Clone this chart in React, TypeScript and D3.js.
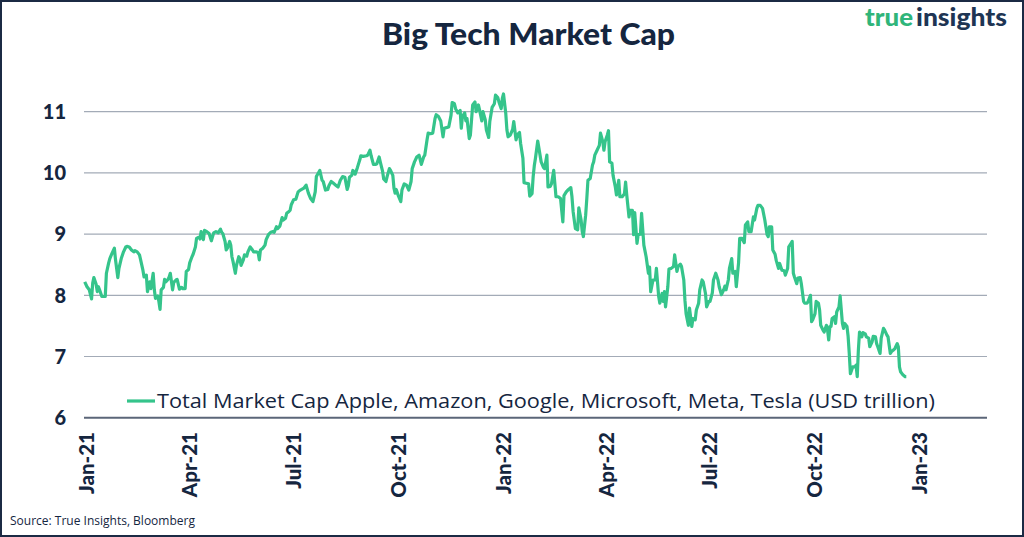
import React, { useEffect, useRef } from "react";
import * as d3 from "d3";

// Days since 2021-01-01 for each observation
const dayOffsets: number[] = [
  -2, 0, 2, 4, 5, 6, 8, 9, 10, 11, 13, 14, 16, 17, 19, 20, 22, 24, 25, 27, 28, 30, 32, 34, 35, 37, 39, 41, 42, 44, 46, 47, 49, 50, 52, 53, 55, 56, 58, 59, 60, 62, 63, 64, 65, 67, 68, 69, 71, 72, 73, 75, 76, 78, 79, 81, 83, 84, 86, 87, 89, 90, 92, 93, 95, 96, 98, 99, 100, 102, 103, 105, 107, 109, 111, 113, 115, 117, 118, 119, 121, 122, 123, 125, 126, 127, 128, 130, 131, 133, 134, 135, 137, 138, 140, 141, 143, 145, 146, 148, 150, 151, 152, 154, 156, 157, 159, 161, 163, 164, 166, 167, 169, 170, 171, 172, 174, 175, 177, 178,
  179, 181, 183, 185, 187, 190, 192, 194, 196, 198, 200, 201, 204, 206, 207, 209, 211, 212, 214, 216, 218, 220, 222, 224, 226, 228, 229, 230, 232, 233, 235, 237, 239, 240, 242, 245, 246, 248, 249, 251, 253, 254, 256, 257, 259, 260, 262, 263, 265, 266, 268, 269, 270, 271, 273, 275, 276, 278, 280, 282, 284, 285, 287, 289, 291, 293, 295, 296, 298, 299, 301, 303, 305, 306, 308, 310, 312, 313, 315, 317, 319, 320, 322, 323, 325, 327, 328, 329, 331, 332, 333, 335, 336, 338, 340, 341, 343, 344, 346, 347, 349, 350, 352, 353, 355, 357, 358, 360, 361, 363, 364, 365, 367, 368, 369, 371, 373, 374, 376, 377, 379, 380, 382, 383, 385, 387, 388, 390, 391, 392, 393, 395,
  398, 400, 401, 403, 404, 406, 407, 409, 411, 413, 415, 417, 418, 420, 422, 424, 425, 426, 428, 430, 431, 433, 434, 435, 437, 438, 439, 441, 443, 444, 445, 447, 449, 450, 452, 453, 454, 456, 457, 458, 460, 461, 463, 464, 466, 467, 469, 471, 472, 473, 475, 476, 478, 479, 480, 482, 483, 485, 486, 488, 490, 492, 493, 494, 496, 498, 499, 501, 502, 504, 505, 506, 507, 509, 510, 512, 514, 515, 517, 518, 520, 521, 523, 524, 525, 527, 528, 530, 531, 533, 534, 536, 537, 539, 540, 542, 543, 545, 546, 548, 549, 551, 553, 554, 556, 558, 559, 560, 562, 563, 565, 566, 568, 569, 571, 572, 574, 576, 577, 579, 580, 582, 584, 585, 587, 588, 590,
  592, 594, 596, 597, 598, 600, 601, 603, 604, 606, 607, 609, 611, 612, 614, 615, 617, 618, 619, 620, 622, 623, 625, 626, 628, 629, 631, 632, 634, 635, 636, 638, 639, 641, 642, 643, 645, 646, 648, 649, 650, 651, 652, 653, 655, 656, 657, 659, 660, 662, 663, 664, 666, 667, 668, 669, 671, 673, 674, 675, 676, 677, 679, 680, 682, 683, 685, 686, 688, 689, 691, 692, 693, 695, 696, 698, 699, 701, 702, 704, 705, 707, 708, 710, 711, 712, 713, 715, 717, 718,
];

// Total market cap (USD trillion)
const marketCap: number[] = [
  8.22, 8.14, 8.09, 7.94, 8.2, 8.29, 8.18, 8.06, 8.14, 8.09, 7.98, 7.98, 7.98, 8.36, 8.53, 8.6, 8.69, 8.77, 8.58, 8.29, 8.44, 8.6, 8.71, 8.79, 8.8, 8.79, 8.74, 8.71, 8.73, 8.71, 8.66, 8.58, 8.41, 8.3, 8.33, 8.06, 8.22, 8.11, 8.36, 8.09, 7.95, 7.99, 7.9, 7.77, 8.09, 8.13, 8.26, 8.22, 8.26, 8.3, 8.36, 8.09, 8.21, 8.25, 8.26, 8.1, 8.13, 8.11, 8.11, 8.39, 8.42, 8.53, 8.63, 8.67, 8.79, 8.93, 8.95, 8.92, 9.04, 8.91, 9.06, 9.04, 9.01, 8.89, 9.02, 9.04, 9.02, 9.08, 9.03, 9.01, 8.88, 8.74, 8.77, 8.88, 8.82, 8.63, 8.55, 8.36, 8.49, 8.63, 8.6, 8.49, 8.58, 8.66, 8.64, 8.71, 8.79, 8.74, 8.71, 8.71, 8.7, 8.58, 8.74, 8.77, 8.82, 8.91, 8.99, 9.03, 9.04, 9.03, 9.12, 9.09, 9.13, 9.2, 9.27, 9.23, 9.26, 9.34, 9.37, 9.39,
  9.48, 9.56, 9.57, 9.69, 9.72, 9.75, 9.8, 9.67, 9.58, 9.53, 9.69, 9.94, 10.04, 9.88, 9.86, 9.72, 9.73, 9.79, 9.86, 9.83, 9.8, 9.77, 9.88, 9.94, 9.93, 9.73, 9.79, 9.93, 9.96, 10.04, 9.98, 10.09, 10.21, 10.28, 10.27, 10.28, 10.29, 10.37, 10.28, 10.14, 10.14, 10.15, 10.26, 10.18, 10.03, 9.9, 9.86, 9.94, 10.07, 10.04, 9.96, 9.75, 9.67, 9.73, 9.62, 9.53, 9.72, 9.82, 9.8, 9.72, 9.86, 10.07, 10.18, 10.26, 10.29, 10.14, 10.26, 10.29, 10.54, 10.65, 10.64, 10.65, 10.89, 10.95, 10.92, 10.85, 10.59, 10.73, 10.74, 10.75, 10.94, 11.15, 11.13, 11.05, 10.98, 11.02, 10.73, 10.92, 10.98, 10.85, 10.89, 10.56, 10.62, 11.11, 11.16, 11.0, 11.11, 11.03, 10.85, 11.0, 10.87, 10.7, 10.58, 10.84, 11.07, 11.13, 11.27, 11.23, 11.16, 11.05, 11.22, 11.29, 10.97, 10.7, 10.59, 10.62, 10.71, 10.84, 10.54, 10.62, 10.66, 10.48, 10.24, 9.84, 9.83, 9.82, 9.62, 9.66, 9.94, 10.12, 10.24, 10.52,
  10.18, 10.09, 10.07, 10.29, 9.77, 9.78, 9.82, 10.04, 9.61, 9.61, 9.58, 9.2, 9.63, 9.69, 9.73, 9.76, 9.61, 9.37, 9.09, 9.07, 9.43, 9.23, 9.04, 8.96, 9.31, 9.58, 9.88, 9.91, 10.13, 10.18, 10.29, 10.37, 10.45, 10.65, 10.51, 10.37, 10.51, 10.62, 10.69, 10.18, 10.16, 9.96, 9.77, 9.64, 9.88, 9.61, 9.61, 9.66, 9.85, 9.64, 9.28, 9.39, 9.39, 8.99, 9.35, 8.85, 8.99, 9.0, 9.34, 8.82, 8.63, 8.36, 8.46, 8.06, 8.25, 8.25, 8.44, 7.98, 7.87, 8.03, 7.9, 8.06, 7.81, 8.14, 8.43, 8.44, 8.47, 8.66, 8.39, 8.47, 8.51, 8.47, 8.25, 7.92, 7.7, 7.51, 7.79, 7.49, 7.62, 7.6, 7.76, 7.87, 8.09, 8.25, 8.22, 8.03, 7.81, 7.9, 7.9, 8.04, 8.25, 8.36, 8.25, 8.14, 8.01, 8.09, 8.15, 8.09, 8.25, 8.44, 8.6, 8.36, 8.39, 8.14, 8.53, 8.93, 8.93, 8.86, 9.15, 9.2, 9.04, 9.04, 9.28, 9.23, 9.42, 9.47, 9.47,
  9.42, 9.23, 8.99, 8.96, 9.12, 9.12, 8.74, 8.67, 8.57, 8.44, 8.52, 8.41, 8.4, 8.33, 8.44, 8.79, 8.85, 8.88, 8.36, 8.3, 8.19, 8.28, 8.29, 8.19, 7.9, 7.87, 7.87, 7.9, 8.0, 7.57, 7.6, 7.7, 7.9, 7.87, 7.76, 7.51, 7.43, 7.4, 7.51, 7.43, 7.27, 7.49, 7.49, 7.62, 7.65, 7.54, 7.73, 7.81, 7.99, 7.54, 7.46, 7.54, 7.49, 7.33, 7.05, 6.72, 6.83, 6.83, 6.86, 6.67, 7.11, 7.4, 7.32, 7.39, 7.37, 7.32, 7.3, 7.16, 7.24, 7.33, 7.32, 7.21, 7.16, 7.05, 7.3, 7.46, 7.43, 7.35, 7.32, 7.05, 7.08, 7.11, 7.13, 7.21, 7.16, 6.83, 6.75, 6.7, 6.67, 6.67,
];

const yTicks: number[] = [6, 7, 8, 9, 10, 11];
const xTickLabels: string[] = ["Jan-21", "Apr-21", "Jul-21", "Oct-21", "Jan-22", "Apr-22", "Jul-22", "Oct-22", "Jan-23"];
const xTickDates: string[] = ["2021-01-01", "2021-04-01", "2021-07-01", "2021-10-01", "2022-01-01", "2022-04-01", "2022-07-01", "2022-10-01", "2023-01-01"];

const titleText = "Big Tech Market Cap";
const legendText = "Total Market Cap Apple, Amazon, Google, Microsoft, Meta, Tesla (USD trillion)";
const sourceText = "Source: True Insights, Bloomberg";

const NAVY = "#15263f";
const GREEN = "#35c48b";

export default function App() {
  const ref = useRef<SVGSVGElement | null>(null);

  useEffect(() => {
    const svg = d3.select(ref.current);
    svg.selectAll("*").remove();
    const W = 1024, H = 537;
    const parse = d3.timeParse("%Y-%m-%d");
    const base = parse("2021-01-01") as Date;

    const x = d3.scaleTime().domain([base, parse("2023-01-01") as Date]).range([87, 920]);
    const y = d3.scaleLinear().domain([6, 11]).range([417.7, 111.7]);
    const gridX0 = 84, gridX1 = 987;

    svg.append("rect").attr("x", 0).attr("y", 0).attr("width", W).attr("height", H).attr("fill", "#fff");
    svg.append("rect").attr("x", 1).attr("y", 1).attr("width", W - 2).attr("height", H - 2)
      .attr("fill", "none").attr("stroke", "#1b2a44").attr("stroke-width", 2);

    // title
    svg.append("text").attr("x", 382).attr("y", 45)
      .attr("font-family", "Lato").attr("font-weight", 900).attr("font-size", 31)
      .attr("textLength", 293).attr("lengthAdjust", "spacingAndGlyphs")
      .attr("fill", NAVY).text(titleText);

    // logo
    svg.append("text").attr("x", 865).attr("y", 26)
      .attr("font-family", "Lato").attr("font-weight", 900).attr("font-size", 25)
      .attr("textLength", 48).attr("lengthAdjust", "spacingAndGlyphs")
      .attr("fill", "#2fb57a").text("true");
    svg.append("text").attr("x", 916).attr("y", 26)
      .attr("font-family", "Lato").attr("font-weight", 900).attr("font-size", 25)
      .attr("textLength", 91).attr("lengthAdjust", "spacingAndGlyphs")
      .attr("fill", "#1e3554").text("insights");

    // gridlines
    const g = svg.append("g");
    g.selectAll("line.grid").data(yTicks.filter((t) => t !== 6)).join("line")
      .attr("x1", gridX0).attr("x2", gridX1)
      .attr("y1", (d) => y(d)).attr("y2", (d) => y(d))
      .attr("stroke", "#a3abb7").attr("stroke-width", 1.2);
    g.append("line").attr("x1", gridX0).attr("x2", gridX1).attr("y1", y(6)).attr("y2", y(6))
      .attr("stroke", "#5b6678").attr("stroke-width", 2);

    // y labels
    g.selectAll("text.ylab").data(yTicks).join("text")
      .attr("x", 66).attr("y", (d) => y(d)).attr("dy", "0.36em")
      .attr("text-anchor", "end").attr("font-family", "Lato").attr("font-weight", 900)
      .attr("font-size", 20).attr("fill", NAVY).text((d) => String(d));

    // x labels
    g.selectAll("text.xlab").data(xTickDates).join("text")
      .attr("transform", (d) => `translate(${x(parse(d) as Date)},432) rotate(-90)`)
      .attr("dy", "0.36em").attr("text-anchor", "end")
      .attr("font-family", "Lato").attr("font-weight", 900).attr("font-size", 20.5)
      .attr("fill", NAVY).text((d, i) => xTickLabels[i]);

    // line
    const pts = dayOffsets.map((d, i) => ({ date: d3.timeDay.offset(base, d), v: marketCap[i] }));
    const line = d3.line<{ date: Date; v: number }>().x((d) => x(d.date)).y((d) => y(d.v));
    g.append("path").datum(pts).attr("d", line).attr("fill", "none")
      .attr("stroke", GREEN).attr("stroke-width", 3.2).attr("stroke-linejoin", "round");

    // legend
    g.append("line").attr("x1", 127).attr("x2", 155).attr("y1", 401).attr("y2", 401)
      .attr("stroke", GREEN).attr("stroke-width", 3.2);
    g.append("text").attr("x", 157).attr("y", 408).attr("font-family", "Open Sans")
      .attr("font-size", 20).attr("fill", NAVY)
      .attr("textLength", 778).attr("lengthAdjust", "spacingAndGlyphs").text(legendText);

    // source
    svg.append("text").attr("x", 10).attr("y", 525).attr("font-family", "Open Sans")
      .attr("font-size", 12).attr("fill", NAVY).text(sourceText);
  }, []);

  return (
    <svg ref={ref} width={1024} height={537}
      style={{ position: "fixed", left: 0, top: 0, display: "block" }} />
  );
}
